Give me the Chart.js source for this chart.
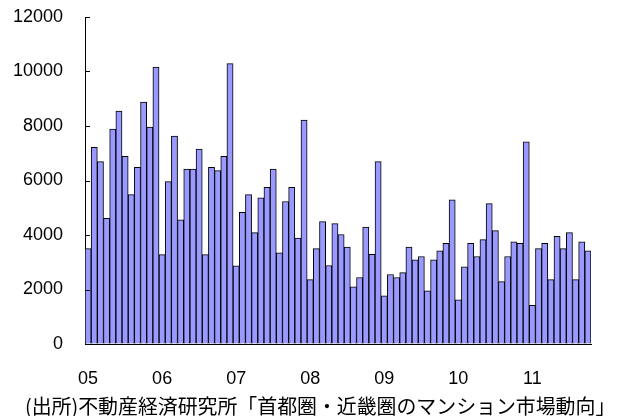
<!DOCTYPE html>
<html>
<head>
<meta charset="utf-8">
<script src="https://cdn.jsdelivr.net/npm/chart.js@4.4.0/dist/chart.umd.min.js"></script>
<style>
  html, body { margin: 0; padding: 0; background: #ffffff; }
  #wrap { width: 627px; height: 416px; }
</style>
</head>
<body>
<div id="wrap"><canvas id="c" width="627" height="416"></canvas></div>
<script>
// ---- data (monthly values) ----
const yearLabels = ['05', '06', '07', '08', '09', '10', '11'];
const v2005 = [3500, 7220, 6690, 4610, 7890, 8550, 6890, 5480, 6480, 8880, 7960, 10160];
const v2006 = [3280, 5960, 7630, 4560, 6420, 6420, 7150, 3280, 6480, 6360, 6890, 10290];
const v2007 = [2870, 4830, 5480, 4090, 5360, 5750, 6420, 3350, 5230, 5750, 3890, 8220];
const v2008 = [2360, 3500, 4490, 2880, 4420, 4020, 3560, 2100, 2440, 4290, 3290, 6690];
const v2009 = [1770, 2550, 2440, 2620, 3560, 3090, 3210, 1950, 3090, 3420, 3690, 5290];
const v2010 = [1620, 2830, 3690, 3210, 3830, 5150, 4160, 2290, 3210, 3750, 3690, 7420];
const v2011 = [1420, 3500, 3690, 2360, 3950, 3500, 4090, 2360, 3750, 3420];
const yTicks = [0, 2000, 4000, 6000, 8000, 10000, 12000];
const caption = '(出所)不動産経済研究所「首都圏・近畿圏のマンション市場動向」';

const values = [].concat(v2005, v2006, v2007, v2008, v2009, v2010, v2011);
const categories = values.map((_, i) => '20' + yearLabels[Math.floor(i / 12)] + '/' + (i % 12 + 1));

const CJK = '"Noto Sans CJK JP", sans-serif';

const extras = {
  id: 'extras',
  afterDraw(chart) {
    const ctx = chart.ctx;
    const ys = chart.scales.y;
    const left = chart.chartArea.left;
    ctx.save();
    // inward tick marks on the value axis
    ctx.strokeStyle = '#000';
    ctx.lineWidth = 1;
    yTicks.forEach(t => {
      const py = Math.round(ys.getPixelForValue(t)) + 0.5;
      ctx.beginPath();
      ctx.moveTo(left, py);
      ctx.lineTo(left + 5, py);
      ctx.stroke();
    });
    // source caption below the chart
    ctx.font = '20px ' + CJK;
    const w20 = ctx.measureText(caption).width;
    const size = Math.max(18, Math.min(23, 20 * 592 / w20));
    ctx.font = size.toFixed(1) + 'px ' + CJK;
    ctx.fillStyle = '#000';
    ctx.textAlign = 'left';
    ctx.textBaseline = 'middle';
    ctx.fillText(caption, 25, 406);
    ctx.restore();
  }
};

new Chart(document.getElementById('c'), {
  type: 'bar',
  data: {
    labels: categories,
    datasets: [{
      data: values,
      backgroundColor: '#9999FF',
      borderColor: '#000000',
      borderWidth: 1,
      borderSkipped: 'start',
      barPercentage: 1.0,
      categoryPercentage: 1.0
    }]
  },
  options: {
    responsive: false,
    animation: false,
    devicePixelRatio: 1,
    layout: { padding: { left: 0, right: 36, top: 17, bottom: 0 } },
    plugins: {
      legend: { display: false },
      tooltip: { enabled: false },
      title: { display: false }
    },
    scales: {
      x: {
        type: 'category',
        grid: { display: false, drawTicks: false },
        border: { display: true, color: '#000', width: 1 },
        ticks: {
          autoSkip: false,
          maxRotation: 0,
          minRotation: 0,
          padding: 24,
          color: '#000',
          font: { family: '"Liberation Sans", Arial, sans-serif', size: 18 },
          callback: (val, idx) => (idx % 12 === 0 ? yearLabels[idx / 12] : '')
        },
        afterFit: (s) => { s.height = 72; }
      },
      y: {
        min: 0,
        max: 12000,
        grid: {
          display: true,
          drawOnChartArea: false,
          drawTicks: true,
          tickLength: 22,
          tickColor: 'rgba(0,0,0,0)'
        },
        border: { display: true, color: '#000', width: 1 },
        ticks: {
          stepSize: 2000,
          padding: 0,
          color: '#000',
          font: { family: '"Liberation Sans", Arial, sans-serif', size: 18 },
          callback: (v) => String(v)
        },
        afterFit: (s) => { s.width = 85; }
      }
    }
  },
  plugins: [extras]
});
</script>
</body>
</html>
